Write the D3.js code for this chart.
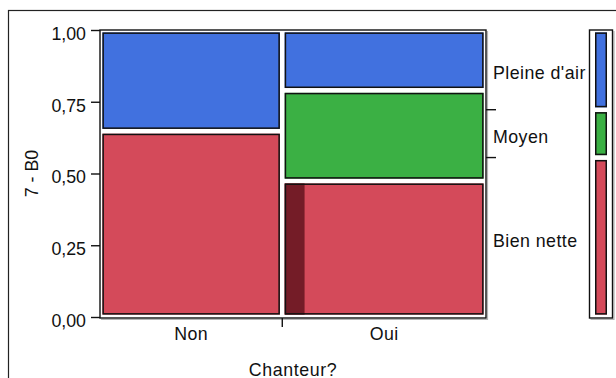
<!DOCTYPE html>
<html><head><meta charset="utf-8">
<script src="https://cdn.jsdelivr.net/npm/d3@7"></script>
<style>
html,body{margin:0;padding:0;background:#fff;}
svg{display:block;}
text{font-family:"Liberation Sans",Arial,sans-serif;fill:#111;}
</style></head>
<body>
<svg id="chart" width="616" height="378"></svg>
<script>
// Data (counts read from the mosaic proportions)
const categories = ["Non", "Oui"];
const levels = ["Bien nette", "Moyen", "Pleine d'air"];          // bottom to top
const countsBienNette = [11, 9];
const countsMoyen = [0, 6];
const countsPleineAir = [6, 4];
const highlightShareBienNette = [0, 0.10];   // dark sub-part of the cell width
const yTicks = [0, 0.25, 0.5, 0.75, 1];
const xTitle = "Chanteur?";
const yTitle = "7 - B0";

const colors = {"Bien nette": "#d44a5a", "Moyen": "#3bb044", "Pleine d'air": "#4171df"};
const darkRed = "#741c27";

const svg = d3.select("#chart");
const L = 100, R = 486, T = 30, B = 317;
const FS = "17.8px";

const seriesCounts = [countsBienNette, countsMoyen, countsPleineAir];
const colTotals = categories.map((c, i) => d3.sum(seriesCounts, s => s[i]));
const grand = d3.sum(colTotals);

const x = d3.scaleLinear().domain([0, grand]).range([L, R]);
const y = d3.scaleLinear().domain([0, 1]).range([B, T]);

// outer frame (clipped by window)
svg.append("rect").attr("x", 8.5).attr("y", 10.5).attr("width", 700).attr("height", 500)
  .attr("fill", "none").attr("stroke", "#222").attr("stroke-width", 1.2);

// build cells
const cells = [];
let cx = 0;
categories.forEach((cat, i) => {
  let cum = 0;
  levels.forEach((lev, j) => {
    const p = seriesCounts[j][i] / colTotals[i];
    if (p > 0) cells.push({cat, lev, x0: cx, x1: cx + colTotals[i], p0: cum, p1: cum + p, hl: j === 0 ? highlightShareBienNette[i] : 0});
    cum += p;
  });
  cx += colTotals[i];
});

const inset = 2.4;
const g = svg.append("g");
cells.forEach(c => {
  const xa = x(c.x0) + inset, xb = x(c.x1) - inset;
  const ya = y(c.p1) + inset, yb = y(c.p0) - inset;
  g.append("rect").attr("x", xa).attr("y", ya).attr("width", xb - xa).attr("height", yb - ya)
    .attr("fill", colors[c.lev]);
  if (c.hl > 0) {
    g.append("rect").attr("x", xa).attr("y", ya).attr("width", (xb - xa) * c.hl).attr("height", yb - ya)
      .attr("fill", darkRed);
  }
  g.append("rect").attr("x", xa + 0.75).attr("y", ya + 0.75).attr("width", xb - xa - 1.5).attr("height", yb - ya - 1.5)
    .attr("fill", "none").attr("stroke", "#111").attr("stroke-width", 1.5);
});

// plot frame with light shadow
svg.append("path").attr("d", `M${R+1.5},${T+1}V${B+2.5}H${L+1}`).attr("fill", "none").attr("stroke", "#b5b5b5").attr("stroke-width", 1.2);
svg.append("rect").attr("x", L).attr("y", T).attr("width", R - L).attr("height", B + 1 - T)
  .attr("fill", "none").attr("stroke", "#111").attr("stroke-width", 1.4);

// left axis
const yAxis = d3.axisLeft(y).tickValues(yTicks).tickSize(9).tickPadding(5)
  .tickFormat(d => d3.format(".2f")(d).replace(".", ","));
const ya = svg.append("g").attr("transform", `translate(${L},0)`).call(yAxis);
ya.select(".domain").remove();
ya.selectAll("line").attr("stroke", "#111").attr("stroke-width", 1.4);
ya.selectAll("text").attr("font-size", FS).attr("fill", "#111")
  .attr("font-family", "Liberation Sans, Arial, sans-serif").attr("dy", "0.52em");

// bottom axis: category ticks at column boundaries, labels at column centres
const bounds = d3.cumsum(colTotals).slice(0, -1);
svg.selectAll(".xt").data(bounds).join("line")
  .attr("x1", d => x(d)).attr("x2", d => x(d)).attr("y1", B + 1).attr("y2", B + 10)
  .attr("stroke", "#111").attr("stroke-width", 1.4);
let acc = 0;
const centers = colTotals.map(t => { const c = acc + t / 2; acc += t; return c; });
svg.selectAll(".xl").data(categories).join("text")
  .attr("x", (d, i) => x(centers[i])).attr("y", 339.5)
  .attr("text-anchor", "middle").attr("font-size", FS).attr("letter-spacing", "0.4px").text(d => d);

// right axis for marginal levels
const levTotals = seriesCounts.map(s => d3.sum(s) / grand);
const levCum = d3.cumsum(levTotals);
svg.selectAll(".rt").data(levCum.slice(0, -1)).join("line")
  .attr("x1", R).attr("x2", R + 10).attr("y1", d => y(d)).attr("y2", d => y(d))
  .attr("stroke", "#111").attr("stroke-width", 1.4);
svg.selectAll(".rl").data(levels).join("text")
  .attr("x", 493).attr("y", (d, i) => y((levCum[i] - levTotals[i] / 2)) + 9.3)
  .attr("font-size", FS).attr("letter-spacing", "0.45px").text(d => d);

// legend bar (marginal distribution)
const LX0 = 589.5, LX1 = 612.5;
svg.append("path").attr("d", `M${LX1+1.5},${T+1}V${B+2.5}H${LX0+1}`).attr("fill", "none").attr("stroke", "#b5b5b5").attr("stroke-width", 1.2);
svg.append("rect").attr("x", LX0).attr("y", T).attr("width", LX1 - LX0).attr("height", B + 1 - T)
  .attr("fill", "none").attr("stroke", "#111").attr("stroke-width", 1.4);
levels.forEach((lev, i) => {
  const p0 = levCum[i] - levTotals[i], p1 = levCum[i];
  const xa = 595, xb = 607;
  const ya2 = y(p1) + inset, yb2 = y(p0) - inset;
  svg.append("rect").attr("x", xa).attr("y", ya2).attr("width", xb - xa).attr("height", yb2 - ya2).attr("fill", colors[lev]);
  svg.append("rect").attr("x", xa + 0.75).attr("y", ya2 + 0.75).attr("width", xb - xa - 1.5).attr("height", yb2 - ya2 - 1.5)
    .attr("fill", "none").attr("stroke", "#111").attr("stroke-width", 1.5);
});

// axis titles
svg.append("text").attr("x", (L + R) / 2).attr("y", 375.5).attr("text-anchor", "middle")
  .attr("font-size", FS).attr("letter-spacing", "0.6px").text(xTitle);
svg.append("text").attr("transform", `translate(37.5,${(T + B) / 2}) rotate(-90)`).attr("text-anchor", "middle")
  .attr("font-size", FS).text(yTitle);
</script>
</body></html>
